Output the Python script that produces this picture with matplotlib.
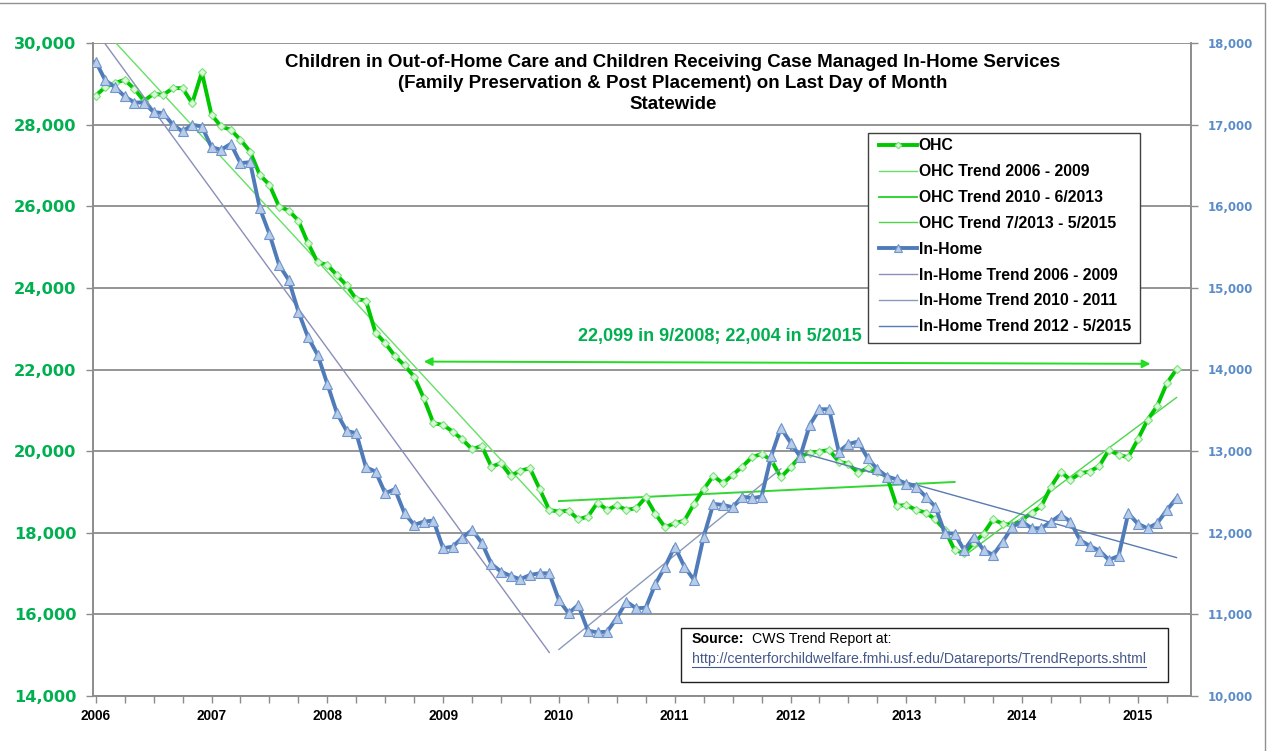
import numpy as np
import matplotlib
matplotlib.use("Agg")
import matplotlib.pyplot as plt
from matplotlib.lines import Line2D
from matplotlib.patches import Rectangle
from matplotlib.ticker import FuncFormatter

plt.rcParams['font.family'] = ['Liberation Sans', 'DejaVu Sans']

# ---------------- data (monthly, Jan 2006 .. May 2015) ----------------
years = ["2006", "2007", "2008", "2009", "2010", "2011", "2012", "2013", "2014", "2015"]

ohc = [28713, 28919, 29017, 29098, 28877, 28583, 28755, 28730, 28894, 28894, 28525, 29279,
       28240, 27955, 27873, 27627, 27341, 26770, 26525, 25993, 25895, 25650, 25094, 24625,
       24564, 24310, 24060, 23723, 23690, 22900, 22645, 22333, 22099, 21826, 21297, 20684,
       20642, 20478, 20285, 20046, 20127, 19620, 19703, 19392, 19522, 19579, 19074, 18559,
       18517, 18542, 18330, 18395, 18738, 18559, 18670, 18560, 18600, 18869, 18461, 18134,
       18232, 18297, 18706, 19066, 19392, 19213, 19417, 19620, 19850, 19931, 19784, 19358,
       19605, 19866, 19962, 19987, 20029, 19743, 19686, 19474, 19581, 19498, 19375, 18657,
       18681, 18559, 18493, 18330, 18069, 17578, 17497, 17750, 17980, 18330, 18216, 18191,
       18314, 18493, 18657, 19130, 19498, 19294, 19458, 19498, 19637, 20029, 19907, 19850,
       20292, 20765, 21108, 21664, 22004]

in_home = [17773, 17541, 17459, 17345, 17271, 17271, 17153, 17141, 16998, 16916, 16998, 16977,
           16724, 16691, 16765, 16528, 16540, 15977, 15662, 15282, 15098, 14710, 14396, 14179,
           13824, 13464, 13248, 13219, 12803, 12749, 12484, 12533, 12239, 12096, 12136, 12149,
           11810, 11830, 11940, 12034, 11879, 11618, 11523, 11471, 11430, 11483, 11503, 11503,
           11176, 11013, 11115, 10800, 10780, 10788, 10958, 11156, 11074, 11082, 11373, 11585,
           11830, 11585, 11422, 11952, 12353, 12341, 12312, 12443, 12423, 12443, 12941, 13285,
           13105, 12933, 13321, 13513, 13513, 12994, 13088, 13117, 12913, 12778, 12688, 12655,
           12598, 12565, 12443, 12320, 11994, 11990, 11785, 11952, 11789, 11728, 11891, 12075,
           12136, 12055, 12055, 12136, 12218, 12136, 11912, 11838, 11781, 11667, 11716, 12239,
           12108, 12055, 12116, 12279, 12423]

# trend periods (month index ranges, inclusive)
ohc_trend_periods = [(0, 47), (48, 89), (90, 112)]
ohc_trend_labels = ["OHC Trend 2006 - 2009", "OHC Trend 2010 - 6/2013", "OHC Trend 7/2013 - 5/2015"]
ih_trend_periods = [(0, 47), (48, 71), (72, 112)]
ih_trend_labels = ["In-Home Trend 2006 - 2009", "In-Home Trend 2010 - 2011", "In-Home Trend 2012 - 5/2015"]

title = ("Children in Out-of-Home Care and Children Receiving Case Managed In-Home Services\n"
         "(Family Preservation & Post Placement) on Last Day of Month\nStatewide")
note = "22,099 in 9/2008; 22,004 in 5/2015"

# ---------------- figure ----------------
W, H = 1270, 751
fig = plt.figure(figsize=(W / 100, H / 100), dpi=100)
fig.patch.set_facecolor('white')

def fx(px):
    return px / W

def fy(py):
    return 1 - py / H

ax = fig.add_axes([fx(93), fy(696), fx(1191) - fx(93), fy(43) - fy(696)])
ax2 = ax.twinx()

x = np.arange(len(ohc))
ax.set_xlim(-0.28, 113.5)
ax.set_ylim(14000, 30000)
ax2.set_ylim(10000, 18000)

GREEN = '#00C800'
BLUE = '#4F7BB8'
AXCOL = '#8C8C8C'

ax.set_yticks(np.arange(14000, 30001, 2000))
ax2.set_yticks(np.arange(10000, 18001, 1000))
ax.yaxis.grid(True, color='#8C8C8C', linewidth=1.3)
ax.set_axisbelow(True)

fmt = FuncFormatter(lambda v, p: f"{int(v):,}")
ax.yaxis.set_major_formatter(fmt)
ax2.yaxis.set_major_formatter(fmt)

ax.set_xticks(np.arange(0, 113, 12))
ax.set_xticklabels(years)
ax.set_xticks(np.arange(0, 114, 3), minor=True)

for a in (ax, ax2):
    a.spines['top'].set_visible(False)
    for s in ('left', 'right', 'bottom'):
        a.spines[s].set_color(AXCOL)
        a.spines[s].set_linewidth(1.2)

ax.tick_params(axis='y', colors=AXCOL, labelcolor='#00B050', length=5, width=1, pad=7)
ax2.tick_params(axis='y', colors=AXCOL, labelcolor='#5B8CC8', length=5, width=1, pad=7)
ax.tick_params(axis='x', which='both', colors=AXCOL, labelcolor='black', length=5, width=1,
               labelsize=9.8, pad=4)
for lab in ax.get_xticklabels():
    lab.set_fontweight('bold')
for lab in ax.get_yticklabels():
    lab.set_fontfamily('DejaVu Sans')
    lab.set_fontweight('bold')
    lab.set_fontsize(11.7)
for lab in ax2.get_yticklabels():
    lab.set_fontfamily('DejaVu Sans')
    lab.set_fontweight('bold')
    lab.set_fontsize(8.5)

# ---------------- trends ----------------
ohc_arr = np.array(ohc, dtype=float)
ih_arr = np.array(in_home, dtype=float)
ohc_trend_colors = ['#66E066', '#33D633', '#4CD64C']
ohc_trend_widths = [1.0, 1.4, 1.0]
ih_trend_colors = ['#8A8FB8', '#8A9AB8', '#5A7AB0']

trend_handles = []
for (a, b), lab, c, lw in zip(ohc_trend_periods, ohc_trend_labels, ohc_trend_colors, ohc_trend_widths):
    xs = x[a:b + 1]
    k, c0 = np.polyfit(xs, ohc_arr[a:b + 1], 1)
    ln, = ax.plot(xs, k * xs + c0, color=c, lw=lw, label=lab, zorder=3)
    trend_handles.append(ln)

ih_handles = []
for (a, b), lab, c in zip(ih_trend_periods, ih_trend_labels, ih_trend_colors):
    xs = x[a:b + 1]
    k, c0 = np.polyfit(xs, ih_arr[a:b + 1], 1)
    ln, = ax2.plot(xs, k * xs + c0, color=c, lw=1.0, label=lab, zorder=3)
    ih_handles.append(ln)

# ---------------- main series ----------------
ohc_line, = ax.plot(x, ohc, color=GREEN, lw=2.8, marker='D', markersize=4.5,
                    markerfacecolor='#D8F8D8', markeredgecolor='#7CE07C', markeredgewidth=0.8,
                    label='OHC', zorder=4)
ih_line, = ax2.plot(x, in_home, color=BLUE, lw=2.8, marker='^', markersize=7,
                    markerfacecolor='#B8CCE8', markeredgecolor='#6F95CC', markeredgewidth=0.8,
                    label='In-Home', zorder=4)

# ---------------- annotation ----------------
ax.annotate('', xy=(34.0, ohc[32] + 95), xytext=(109.3, ohc[-1] + 135),
            arrowprops=dict(arrowstyle='<|-|>', color='#22DD22', lw=1.4,
                            mutation_scale=12, shrinkA=0, shrinkB=0), zorder=5)
fig.text(fx(720), fy(336), note, color='#00B050', fontsize=13, fontweight='bold',
         ha='center', va='center')

# ---------------- title ----------------
fig.text(fx(673), fy(83.5), title, ha='center', va='center', fontsize=13.5, fontweight='bold',
         linespacing=1.3, color='black')

# ---------------- legend ----------------
fig.add_artist(Rectangle((fx(868), fy(343)), fx(1140) - fx(868), fy(133) - fy(343),
                         transform=fig.transFigure, facecolor='white', edgecolor='#404040',
                         lw=1.0, zorder=4))
handles = [ohc_line] + trend_handles + [ih_line] + ih_handles
labels = [h.get_label() for h in handles]
leg = fig.legend(handles, labels, loc='upper left',
                 bbox_to_anchor=(fx(879), fy(138.5)), bbox_transform=fig.transFigure,
                 prop={'weight': 'bold', 'size': 11.3},
                 frameon=False, handlelength=2.4, handletextpad=0.12, labelspacing=0.69,
                 borderpad=0, borderaxespad=0)
leg.set_zorder(5)
for h in leg.legend_handles:
    if hasattr(h, 'set_markersize'):
        h.set_markersize(h.get_markersize() * 0.75)

# ---------------- source box ----------------
fig.add_artist(Rectangle((fx(681), fy(682)), fx(1168) - fx(681), fy(628) - fy(682),
                         transform=fig.transFigure, facecolor='white', edgecolor='#202020',
                         lw=1.0, zorder=6))
t1 = fig.text(fx(692), fy(639), "Source:", fontsize=10.2, fontweight='bold', va='center',
              ha='left', zorder=7)
fig.canvas.draw()
bb = t1.get_window_extent()
fig.text(bb.x1 / W + fx(7), fy(639), "CWS Trend Report at:", fontsize=10.2, va='center',
         ha='left', zorder=7)
url = fig.text(fx(692), fy(659), "http://centerforchildwelfare.fmhi.usf.edu/Datareports/TrendReports.shtml",
               fontsize=10.2, va='center', ha='left', color='#44598A', zorder=7)
fig.canvas.draw()
ub = url.get_window_extent()
fig.add_artist(Line2D([ub.x0 / W, ub.x1 / W], [(ub.y0 - 1) / H, (ub.y0 - 1) / H],
                      transform=fig.transFigure, color='#44598A', lw=0.8, zorder=7))

# ---------------- outer border ----------------
fig.add_artist(Rectangle((-0.01, -0.01), fx(1265) + 0.01, fy(3) + 0.01,
                         transform=fig.transFigure, facecolor='none', edgecolor='#909090',
                         lw=1.0))

fig.savefig('out.png', dpi=100)
